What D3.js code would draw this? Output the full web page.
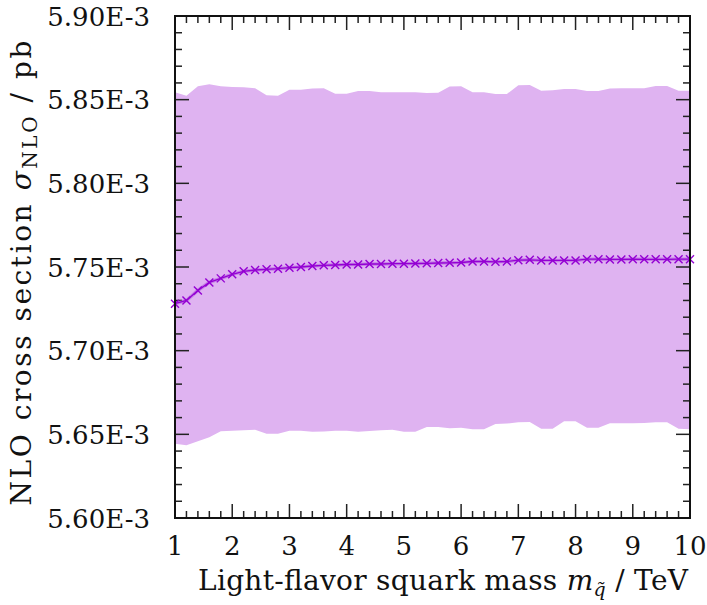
<!DOCTYPE html>
<html>
<head>
<meta charset="utf-8">
<script src="https://cdn.jsdelivr.net/npm/d3@7"></script>
<style>
  html, body { margin: 0; padding: 0; background: #fff; }
  svg { display: block; font-family: "DejaVu Serif", "Liberation Serif", serif; }
</style>
</head>
<body>
<svg id="chart" width="707" height="605"></svg>
<script>
// squark mass in TeV
const massTeV = [1.0, 1.2, 1.4, 1.6, 1.8, 2.0, 2.2, 2.4, 2.6, 2.8,
  3.0, 3.2, 3.4, 3.6, 3.8, 4.0, 4.2, 4.4, 4.6, 4.8,
  5.0, 5.2, 5.4, 5.6, 5.8, 6.0, 6.2, 6.4, 6.6, 6.8,
  7.0, 7.2, 7.4, 7.6, 7.8, 8.0, 8.2, 8.4, 8.6, 8.8,
  9.0, 9.2, 9.4, 9.6, 9.8, 10.0];

// central NLO cross section, units of 1E-3 pb
const sigmaNLO = [5.7281, 5.7300, 5.7360, 5.7408, 5.7432, 5.7456, 5.7474, 5.7482, 5.7486, 5.7490,
  5.7496, 5.7500, 5.7506, 5.7510, 5.7512, 5.7515, 5.7515, 5.7518, 5.7518, 5.7520,
  5.7520, 5.7521, 5.7522, 5.7524, 5.7525, 5.7527, 5.7533, 5.7533, 5.7531, 5.7533,
  5.7541, 5.7543, 5.7539, 5.7539, 5.7539, 5.7539, 5.7547, 5.7547, 5.7545, 5.7545,
  5.7547, 5.7546, 5.7546, 5.7546, 5.7547, 5.7547];

// scale uncertainty band
const sigmaUpper = [5.8544, 5.8524, 5.8580, 5.8592, 5.8580, 5.8576, 5.8574, 5.8568, 5.8527, 5.8524,
  5.8560, 5.8560, 5.8566, 5.8568, 5.8536, 5.8536, 5.8552, 5.8552, 5.8544, 5.8544,
  5.8544, 5.8544, 5.8540, 5.8542, 5.8578, 5.8580, 5.8544, 5.8544, 5.8534, 5.8534,
  5.8586, 5.8588, 5.8554, 5.8556, 5.8564, 5.8564, 5.8552, 5.8552, 5.8566, 5.8568,
  5.8568, 5.8568, 5.8582, 5.8582, 5.8554, 5.8554];

const sigmaLower = [5.6443, 5.6435, 5.6459, 5.6482, 5.6518, 5.6522, 5.6524, 5.6527, 5.6504, 5.6504,
  5.6522, 5.6522, 5.6515, 5.6517, 5.6521, 5.6521, 5.6515, 5.6520, 5.6524, 5.6527,
  5.6515, 5.6515, 5.6544, 5.6544, 5.6536, 5.6540, 5.6530, 5.6530, 5.6562, 5.6564,
  5.6572, 5.6574, 5.6533, 5.6533, 5.6578, 5.6578, 5.6539, 5.6539, 5.6566, 5.6566,
  5.6566, 5.6568, 5.6572, 5.6572, 5.6533, 5.6531];

const xTicks = [1, 2, 3, 4, 5, 6, 7, 8, 9, 10];
const yTicks = [5.60, 5.65, 5.70, 5.75, 5.80, 5.85, 5.90];

const width = 707, height = 605;
const margin = { top: 16, right: 17, bottom: 87, left: 175 };

const svg = d3.select("#chart");

const x = d3.scaleLinear().domain([1, 10]).range([margin.left, width - margin.right]);
const y = d3.scaleLinear().domain([5.60, 5.90]).range([height - margin.bottom, margin.top]);

const rows = massTeV.map((m, i) => ({ m, c: sigmaNLO[i], lo: sigmaLower[i], hi: sigmaUpper[i] }));

svg.append("path")
  .datum(rows)
  .attr("fill", "#dfb3f1")
  .attr("d", d3.area().x((d) => x(d.m)).y0((d) => y(d.lo)).y1((d) => y(d.hi)));

// tick marks, pointing inwards on all four sides
const minorX = d3.range(1, 10.001, 0.2);
const minorY = d3.range(5.60, 5.9001, 0.01);
const tickG = svg.append("g").attr("stroke", "#222").attr("stroke-width", 1.5);

minorX.forEach((v) => {
  const major = xTicks.some((t) => Math.abs(t - v) < 1e-6);
  const len = major ? 14 : 7;
  tickG.append("line").attr("x1", x(v)).attr("x2", x(v))
    .attr("y1", y.range()[0]).attr("y2", y.range()[0] - len);
  tickG.append("line").attr("x1", x(v)).attr("x2", x(v))
    .attr("y1", y.range()[1]).attr("y2", y.range()[1] + len);
});

minorY.forEach((v) => {
  const major = yTicks.some((t) => Math.abs(t - v) < 1e-6);
  const len = major ? 14 : 7;
  tickG.append("line").attr("y1", y(v)).attr("y2", y(v))
    .attr("x1", x.range()[0]).attr("x2", x.range()[0] + len);
  tickG.append("line").attr("y1", y(v)).attr("y2", y(v))
    .attr("x1", x.range()[1]).attr("x2", x.range()[1] - len);
});

// central line with markers
const line = d3.line().x((d) => x(d.m)).y((d) => y(d.c));
svg.append("path").datum(rows)
  .attr("fill", "none").attr("stroke", "#b45ce0").attr("stroke-width", 3.5).attr("opacity", 0.6)
  .attr("d", line);
svg.append("path").datum(rows)
  .attr("fill", "none").attr("stroke", "#9400d3").attr("stroke-width", 1.3)
  .attr("d", line);

const s = 4;
svg.append("g").selectAll("path.mark")
  .data(rows)
  .join("path")
  .attr("class", "mark")
  .attr("fill", "none")
  .attr("stroke", "#9400d3")
  .attr("stroke-width", 1.4)
  .attr("d", (d) => {
    const cx = x(d.m), cy = y(d.c);
    return `M${cx - s},${cy - s}L${cx + s},${cy + s}M${cx - s},${cy + s}L${cx + s},${cy - s}`;
  });

// frame
svg.append("rect")
  .attr("x", margin.left).attr("y", margin.top)
  .attr("width", width - margin.left - margin.right)
  .attr("height", height - margin.top - margin.bottom)
  .attr("fill", "none").attr("stroke", "#111").attr("stroke-width", 2);

// tick labels
const fs = 26;
svg.append("g").selectAll("text")
  .data(xTicks)
  .join("text")
  .attr("x", (d) => x(d))
  .attr("y", 555)
  .attr("text-anchor", "middle")
  .attr("font-size", fs)
  .attr("fill", "#111")
  .text((d) => d);

svg.append("g").selectAll("text")
  .data(yTicks)
  .join("text")
  .attr("x", 150)
  .attr("y", (d) => y(d) + 9.5)
  .attr("text-anchor", "end")
  .attr("font-size", fs)
  .attr("fill", "#111")
  .text((d) => d.toFixed(2) + "E-3");

// axis titles
const xt = svg.append("text")
  .attr("x", 443).attr("y", 590)
  .attr("text-anchor", "middle")
  .attr("font-size", 28)
  .attr("textLength", 490)
  .attr("lengthAdjust", "spacing")
  .attr("fill", "#111");
xt.append("tspan").text("Light-flavor squark mass ");
xt.append("tspan").attr("font-style", "italic").text("m");
xt.append("tspan").attr("font-style", "italic").attr("font-size", 19).attr("dy", 6).text("q\u0303");
xt.append("tspan").attr("dy", -6).text(" / TeV");

const yt = svg.append("text")
  .attr("transform", "translate(31,273) rotate(-90)")
  .attr("text-anchor", "middle")
  .attr("font-size", 28)
  .attr("textLength", 465)
  .attr("lengthAdjust", "spacing")
  .attr("fill", "#111");
yt.append("tspan").text("NLO cross section ");
yt.append("tspan").attr("font-style", "italic").text("\u03c3");
yt.append("tspan").attr("font-size", 20).attr("dy", 6).text("NLO");
yt.append("tspan").attr("dy", -6).text(" / pb");
</script>
</body>
</html>
